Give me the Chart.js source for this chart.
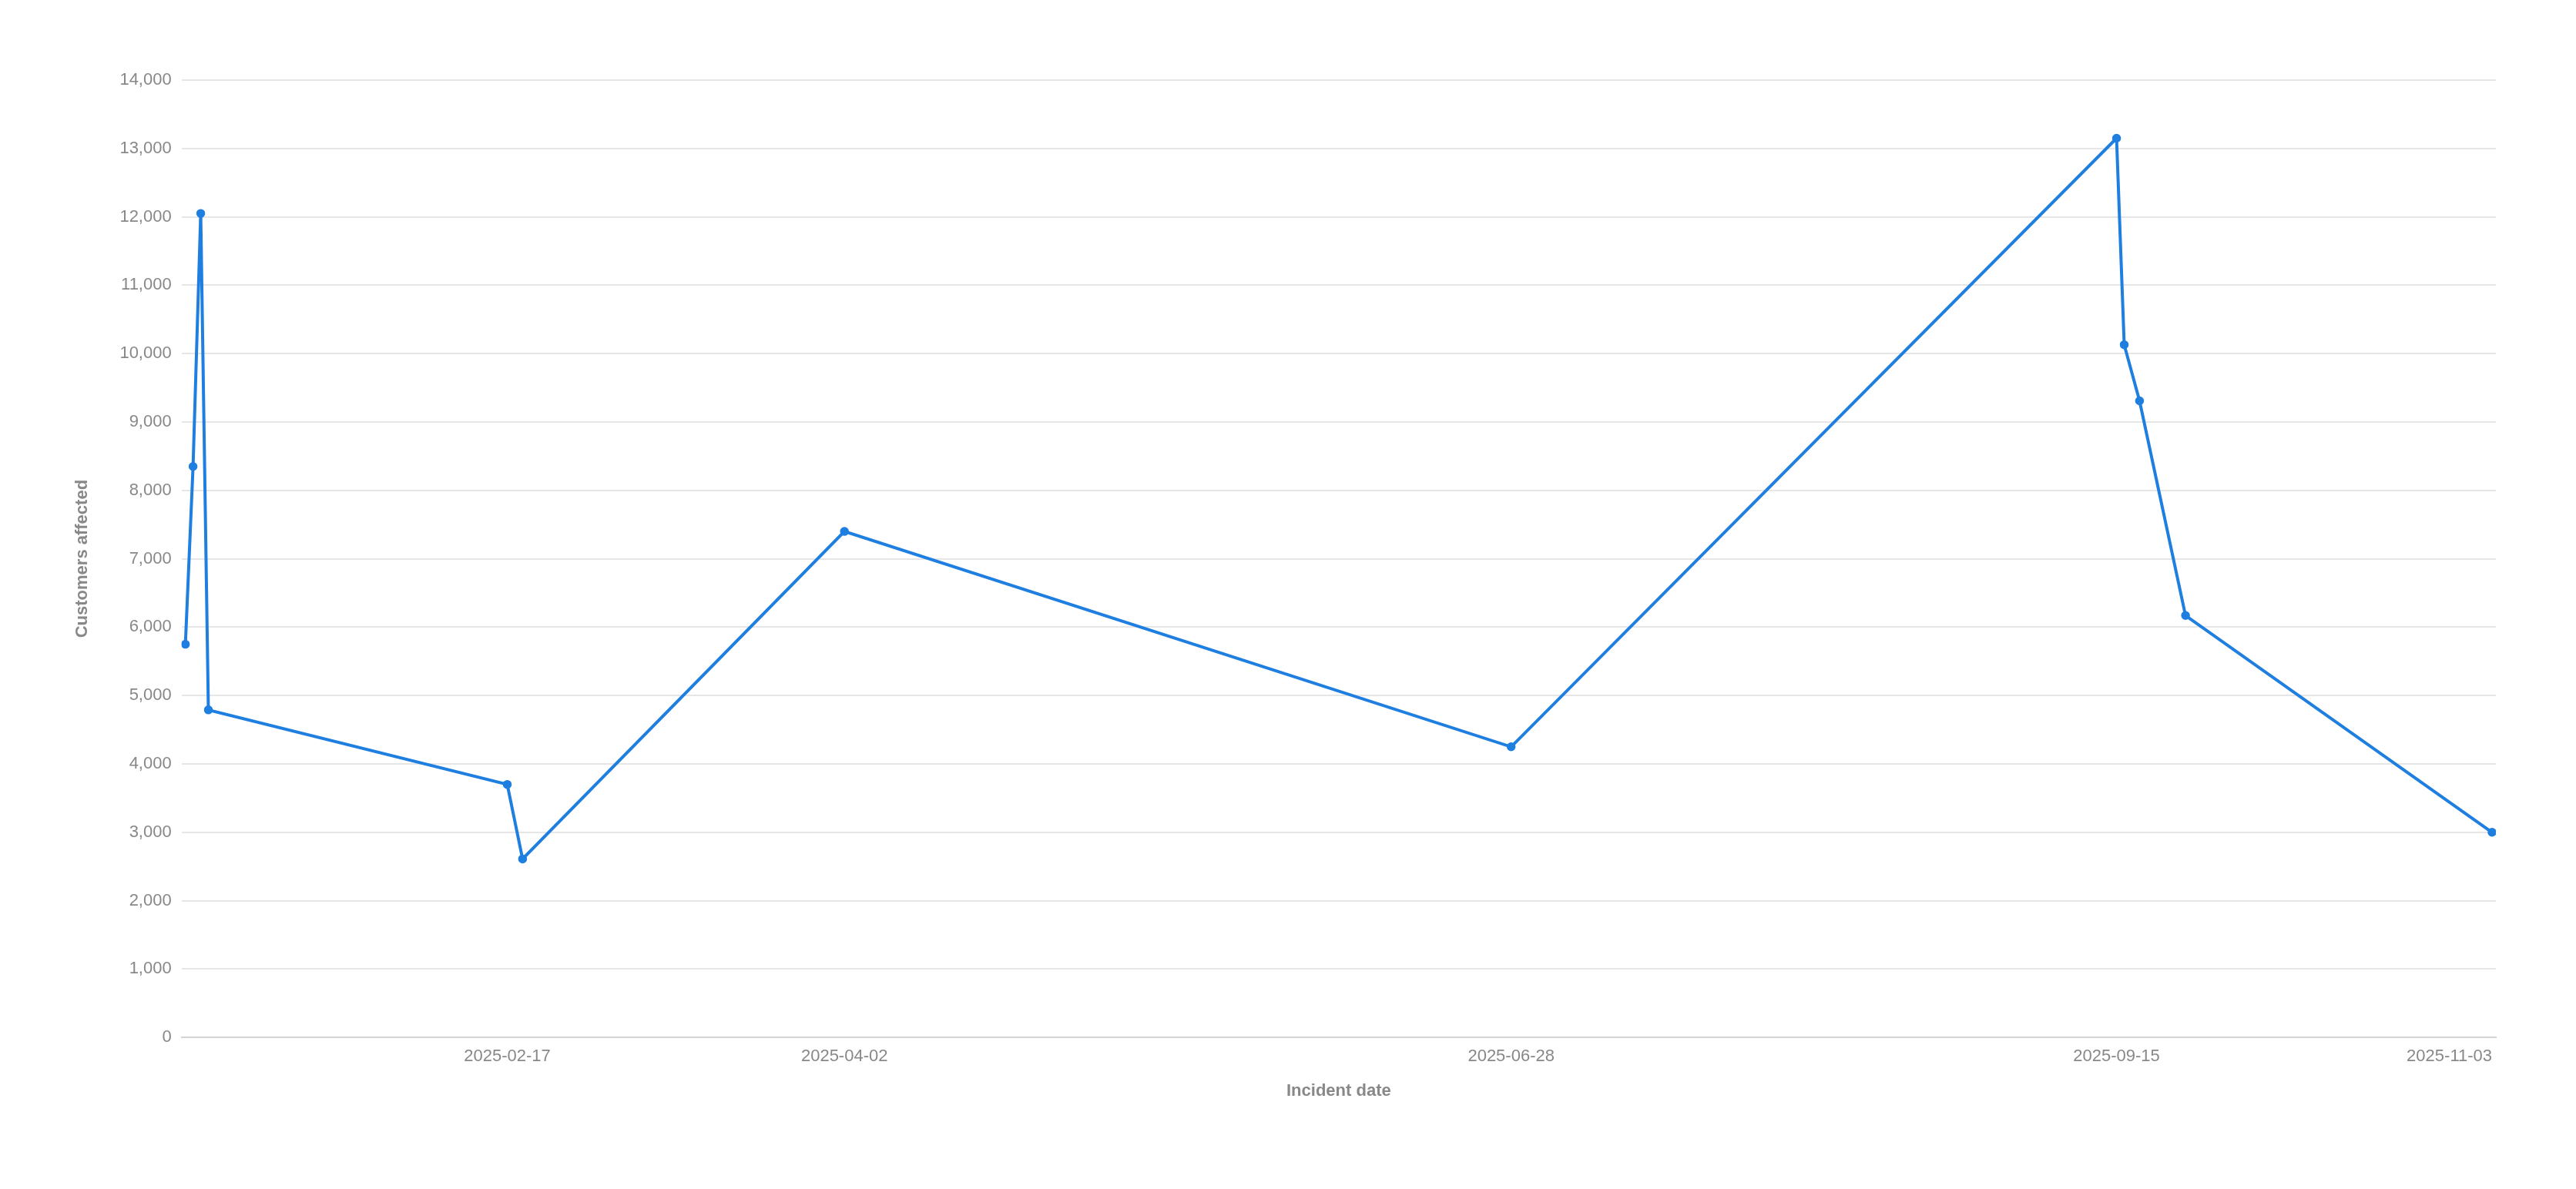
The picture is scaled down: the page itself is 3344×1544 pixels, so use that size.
<!DOCTYPE html>
<html>
<head>
<meta charset="utf-8">
<title>Customers affected by incident date</title>
<script src="https://cdn.jsdelivr.net/npm/chart.js@4.4.1/dist/chart.umd.min.js"></script>
<style>
    html, body { margin: 0; padding: 0; background: #ffffff; }
    #chart { display: block; }
</style>
</head>
<body>
<canvas id="chart" width="3344" height="1544"></canvas>
<script>
var incidentDates = ['2025-01-06', '2025-01-07', '2025-01-08', '2025-01-09', '2025-02-17', '2025-02-19',
    '2025-04-02', '2025-06-28', '2025-09-15', '2025-09-16', '2025-09-18', '2025-09-24', '2025-11-03'];
var customersAffected = [5750, 8350, 12050, 4790, 3700, 2610, 7400, 4250, 13150, 10130, 9310, 6170, 3000];
var tickDates = ['2025-02-17', '2025-04-02', '2025-06-28', '2025-09-15', '2025-11-03'];
var yMax = 14000;
var yStep = 1000;

var DAY = 86400000;
var origin = Date.UTC(2025, 0, 1);

// day number since 2025-01-01, so a linear axis behaves like a time axis
function toDay(str) {
    var p = str.split('-');
    return Math.round((Date.UTC(+p[0], +p[1] - 1, +p[2]) - origin) / DAY);
}

function toLabel(day) {
    return new Date(origin + day * DAY).toISOString().slice(0, 10);
}

var points = incidentDates.map(function(d, i) {
    return { x: toDay(d), y: customersAffected[i] };
});
var firstDay = toDay(incidentDates[0]);
var lastDay = toDay(incidentDates[incidentDates.length - 1]);

var font = "'Liberation Sans', Arial, sans-serif";
var grey = '#888888';

new Chart(document.getElementById('chart'), {
    type: 'line',
    data: {
        datasets: [{
            label: 'Customers affected',
            data: points,
            borderColor: '#1f7fe0',
            backgroundColor: '#1f7fe0',
            borderWidth: 4,
            pointRadius: 5,
            pointBorderWidth: 1.5,
            tension: 0
        }]
    },
    options: {
        responsive: false,
        animation: false,
        devicePixelRatio: 1,
        layout: {
            padding: { top: 104, right: 104, bottom: 114, left: 94 }
        },
        plugins: {
            legend: { display: false },
            tooltip: { enabled: false }
        },
        scales: {
            x: {
                type: 'linear',
                min: firstDay - 0.5,
                max: lastDay + 0.5,
                grid: { display: false },
                border: { display: true, color: '#d4d4d4', width: 2 },
                afterBuildTicks: function(scale) {
                    // an empty tick at the start so 'inner' keeps the real labels centred
                    var ticks = [{ value: scale.min }];
                    tickDates.forEach(function(d) {
                        ticks.push({ value: toDay(d) });
                    });
                    scale.ticks = ticks;
                },
                ticks: {
                    autoSkip: false,
                    maxRotation: 0,
                    align: 'inner',
                    padding: 4,
                    color: grey,
                    font: { family: font, size: 22 },
                    callback: function(value) {
                        if (value === firstDay - 0.5) return '';
                        return toLabel(value);
                    }
                },
                title: {
                    display: true,
                    text: 'Incident date',
                    color: grey,
                    font: { family: font, size: 22, weight: 'bold' },
                    padding: { top: 14, bottom: 0 }
                }
            },
            y: {
                min: 0,
                max: yMax,
                grid: { color: '#e6e6e6', lineWidth: 2, drawTicks: false },
                border: { display: false },
                ticks: {
                    stepSize: yStep,
                    padding: 13,
                    color: grey,
                    font: { family: font, size: 22 }
                },
                title: {
                    display: true,
                    text: 'Customers affected',
                    color: grey,
                    font: { family: font, size: 22, weight: 'bold' },
                    padding: { top: 0, bottom: 22 }
                }
            }
        }
    }
});
</script>
</body>
</html>
